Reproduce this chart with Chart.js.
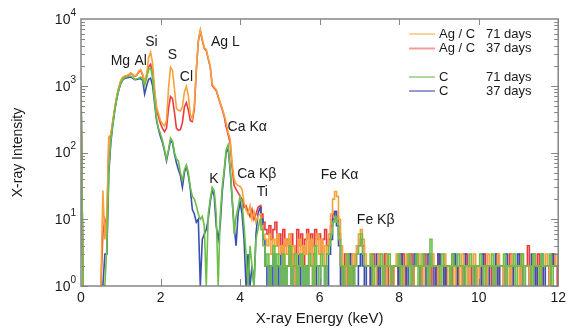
<!DOCTYPE html>
<html>
<head>
<meta charset="utf-8">
<script src="https://cdn.jsdelivr.net/npm/chart.js@4/dist/chart.umd.min.js"></script>
<style>
  html, body { margin: 0; padding: 0; background: #fff; }
  #wrap { width: 570px; height: 331px; }
</style>
</head>
<body>
<div id="wrap"><canvas id="myChart" width="570" height="331"></canvas></div>
<script>
// Spectrum channels: 0.05 keV wide, 0 to 12 keV (241 channels)
const channelWidth = 0.05;
// Above this channel the counts are low and drawn as a histogram
const noiseStart = 90;

// Counts per channel (1 = at or below the axis floor, null = no data)
const agC71 = [
  900, 1, null, null, null, null, null, null, null, null,
  1, 27, 5, 12, 170, 185, 300, 470, 700, 950,
  1200, 1350, 1400, 1420, 1480, 1560, 1480, 1400, 1450, 1650,
  1750, 1500, 1150, 1500, 2600, 3200, 2200, 900, 480, 380,
  300, 270, 250, 300, 900, 1900, 1700, 900, 460, 430,
  420, 480, 800, 980, 700, 370, 320, 500, 1800, 4800,
  6900, 5000, 3700, 3500, 2600, 1950, 1050, 950, 880, 700,
  560, 460, 370, 280, 200, 160, 70, 40, 34, 32,
  31, 28, 18, 14, 12, 16, 10, 13, 9, 11,
  12, 8, 6, 5, 4, 6, 3, 5, 4, 6,
  3, 4, 2, 5, 3, 6, 2, 4, 1, 3,
  5, 2, 4, 3, 6, 2, 5, 1, 4, 6,
  3, 5, 2, 4, 3, 6, 12, 20, 26, 22,
  10, 4, 2, 1, 3, 2, 1, 3, 2, 4,
  6, 7, 5, 3, 2, 2, 3, 2, 1, 2,
  3, 2, 2, 1, 3, 2, 2, 1, 2, 3,
  2, 2, 1, 2, 3, 2, 2, 1, 2, 2,
  3, 2, 1, 2, 2, 1, 2, 3, 2, 2,
  1, 2, 2, 3, 2, 1, 2, 2, 1, 2,
  2, 1, 3, 2, 2, 1, 2, 2, 3, 2,
  1, 2, 2, 2, 1, 3, 2, 2, 1, 2,
  3, 2, 2, 1, 2, 2, 1, 3, 2, 2,
  2, 1, 3, 2, 2, 2, 1, 2, 3, 2,
  2, 1, 2, 2, 3, 2, 1, 2, 2, 3,
  2
];

const agC37 = [
  1000, 1, null, null, null, null, null, null, null, null,
  1, 6, 10, 8, 165, 180, 290, 460, 680, 930,
  1180, 1330, 1380, 1400, 1450, 1530, 1470, 1380, 1430, 1600,
  1700, 1450, 1100, 1400, 1900, 2100, 1600, 800, 450, 340,
  270, 230, 205, 230, 450, 690, 640, 400, 230, 215,
  220, 280, 480, 560, 430, 300, 290, 450, 1700, 4600,
  6600, 4800, 3600, 3400, 2500, 1900, 1000, 920, 850, 680,
  540, 440, 350, 240, 185, 140, 60, 32, 28, 25,
  22, 20, 15, 16, 13, 11, 14, 10, 12, 15,
  16, 12, 9, 7, 6, 8, 5, 7, 9, 4,
  6, 3, 7, 4, 5, 2, 6, 4, 3, 7,
  4, 6, 2, 5, 7, 3, 6, 4, 7, 5,
  6, 3, 5, 7, 4, 5, 8, 12, 13, 11,
  6, 2, 1, 3, 1, 2, 3, 1, 2, 3,
  4, 5, 4, 2, 2, 2, 1, 3, 2, 2,
  1, 2, 2, 3, 1, 2, 2, 1, 2, 2,
  1, 2, 3, 1, 2, 2, 3, 1, 2, 2,
  2, 1, 2, 3, 2, 2, 1, 2, 2, 1,
  3, 2, 2, 1, 2, 2, 1, 3, 2, 1,
  2, 2, 1, 2, 3, 2, 2, 1, 2, 2,
  2, 1, 2, 3, 1, 2, 2, 1, 2, 3,
  1, 2, 2, 1, 2, 2, 3, 1, 2, 2,
  2, 3, 1, 2, 2, 4, 1, 2, 2, 1,
  3, 2, 1, 2, 2, 2, 1, 3, 2, 2,
  1
];

const c71 = [
  1100, 1, null, null, null, null, null, null, null, null,
  null, 1, 1, 4, 60, 150, 270, 440, 650, 880,
  1100, 1250, 1320, 1350, 1380, 1400, 1330, 1250, 1270, 1300,
  1350, 1250, 1000, 1300, 1750, 1850, 1300, 600, 320, 230,
  190, 150, 110, 80, 110, 165, 150, 100, 80, 75,
  50, 38, 55, 65, 50, 30, 22, 20, 16, 12,
  10, 11, 8, 1, 12, 20, 30, 27, 12, 1,
  11, 30, 55, 110, 130, 60, 22, 6, 11, 15,
  22, 18, 8, 3, 1, 4, 2, 1, 5, 7,
  10, 7, 4, 2, 3, 1, 2, 4, 1, 3,
  2, 1, 3, 1, 2, 4, 1, 2, 3, 1,
  2, 3, 1, 2, 1, 3, 2, 1, 4, 2,
  1, 3, 2, 1, 3, 4, 6, 9, 11, 9,
  5, 2, 1, 2, 3, 1, 2, 1, 2, 3,
  4, 6, 3, 2, 2, 2, 3, 1, 2, 2,
  2, 3, 1, 2, 2, 3, 1, 2, 2, 2,
  3, 1, 2, 2, 2, 3, 1, 2, 2, 3,
  1, 2, 3, 2, 2, 1, 5, 2, 2, 2,
  2, 1, 3, 2, 2, 2, 1, 3, 2, 2,
  3, 2, 2, 1, 2, 2, 3, 2, 1, 2,
  2, 3, 2, 1, 2, 2, 2, 3, 1, 2,
  2, 2, 2, 3, 1, 2, 2, 2, 3, 1,
  2, 2, 3, 1, 2, 2, 2, 1, 3, 2,
  2, 1, 3, 2, 2, 2, 3, 1, 2, 2,
  2
];

const c37 = [
  1000, 1, null, null, null, null, null, null, null, null,
  null, 1, 3, 3, 50, 140, 260, 430, 640, 860,
  1080, 1220, 1290, 1310, 1330, 1350, 1300, 1230, 1240, 1260,
  1280, 1200, 750, 1000, 1250, 1300, 1000, 550, 300, 220,
  170, 140, 105, 75, 105, 150, 140, 95, 70, 55,
  45, 30, 50, 62, 45, 28, 14, 12, 9, 10,
  1, 5, 6, 7, 10, 18, 28, 22, 8, 5,
  8, 25, 50, 100, 115, 55, 20, 8, 4, 12,
  18, 12, 5, 1, 3, 1, 2, 1, 6, 12,
  15, 10, 5, 2, 1, 2, 1, 3, 1, 2,
  1, 3, 1, 2, 1, 1, 3, 1, 2, 1,
  3, 1, 2, 1, 2, 1, 1, 3, 1, 2,
  2, 1, 1, 2, 1, 3, 5, 10, 13, 8,
  4, 1, 2, 1, 1, 3, 1, 2, 1, 1,
  2, 3, 2, 1, 2, 2, 1, 2, 2, 3,
  1, 2, 2, 1, 3, 2, 2, 1, 2, 2,
  1, 3, 2, 2, 1, 2, 2, 1, 3, 2,
  2, 1, 2, 2, 1, 3, 2, 2, 1, 2,
  3, 2, 2, 1, 2, 2, 1, 2, 3, 1,
  2, 2, 1, 3, 2, 1, 2, 2, 1, 2,
  2, 1, 3, 2, 2, 1, 2, 2, 1, 3,
  1, 2, 2, 1, 3, 2, 2, 1, 2, 2,
  3, 2, 1, 2, 2, 2, 1, 3, 2, 1,
  2, 2, 3, 1, 2, 2, 1, 2, 3, 2,
  2
];

// Axis ticks
const energyTicks = [0, 2, 4, 6, 8, 10, 12];
const intensityDecades = [0, 1, 2, 3, 4];

// Peak labels (energy in keV, intensity where the label sits)
const peakNames = ["Mg", "Al", "Si", "S", "Cl", "Ag L", "Ca K\u03b1", "K", "Ca K\u03b2", "Ti", "Fe K\u03b1", "Fe K\u03b2"];
const peakEnergies = [0.99, 1.50, 1.77, 2.30, 2.65, 3.63, 4.18, 3.34, 4.42, 4.56, 6.50, 7.41];
const peakIntensities = [2300, 2300, 4450, 2840, 1330, 4450, 244, 40, 48, 25.8, 46, 9.8];

// Legend
const legendSamples = ["Ag / C", "Ag / C", "C", "C"];
const legendDays = ["71 days", "37 days", "71 days", "37 days"];
const seriesColors = ["#f6a23c", "#ec3b3f", "#6abf45", "#3a4fb3"];
const legendColors = ["#fbd39a", "#f39c9c", "#acd99c", "#939bcf"];

const FONT = "'Liberation Sans', Arial, sans-serif";
Chart.defaults.font.family = FONT;

const toPoints = (vals, from, to) =>
  vals.slice(from, to).map((v, i) => ({ x: +((i + from) * channelWidth).toFixed(2), y: v }));

// each series: smooth line for the peaks, histogram steps for the low-count tail
function spectrum(label, vals, color, order) {
  return [
    { label: label, data: toPoints(vals, 0, noiseStart + 1), borderColor: color, order: order },
    { label: label, data: toPoints(vals, noiseStart, vals.length), borderColor: color, order: order, stepped: "middle" },
  ];
}

const data = {
  datasets: [
    ...spectrum("Ag / C 71 days", agC71, seriesColors[0], 1),
    ...spectrum("Ag / C 37 days", agC37, seriesColors[1], 3),
    ...spectrum("C 71 days", c71, seriesColors[2], 0),
    ...spectrum("C 37 days", c37, seriesColors[3], 2),
  ],
};

// Box, inward ticks, y labels, peak names and legend
const framePlugin = {
  id: "frame",
  afterDatasetsDraw(chart) {
    const { ctx, chartArea: a, scales: { x, y } } = chart;
    ctx.save();
    ctx.strokeStyle = "#858585";
    ctx.lineWidth = 1;
    ctx.beginPath();
    energyTicks.forEach((e) => {
      if (e === 0 || e === 12) return;
      const px = Math.round(x.getPixelForValue(e)) + 0.5;
      ctx.moveTo(px, a.top); ctx.lineTo(px, a.top + 6);
      ctx.moveTo(px, a.bottom); ctx.lineTo(px, a.bottom - 7);
    });
    for (let d = 0; d < 4; d++) {
      for (let m = 1; m <= 9; m++) {
        const py = Math.round(y.getPixelForValue(m * Math.pow(10, d))) + 0.5;
        const len = m === 1 ? 7 : 4;
        ctx.moveTo(a.left, py); ctx.lineTo(a.left + len, py);
        ctx.moveTo(a.right, py); ctx.lineTo(a.right - len, py);
      }
    }
    ctx.stroke();
    ctx.lineWidth = 1.5;
    ctx.strokeRect(a.left, a.top, a.right - a.left, a.bottom - a.top);

    // y tick labels 10^n
    ctx.fillStyle = "#1a1a1a";
    intensityDecades.forEach((d) => {
      const py = y.getPixelForValue(Math.pow(10, d));
      ctx.font = "10px " + FONT;
      const ew = ctx.measureText(String(d)).width;
      ctx.textBaseline = "middle";
      ctx.textAlign = "left";
      ctx.fillText(String(d), a.left - 5 - ew, py - 6);
      ctx.font = "14px " + FONT;
      ctx.textAlign = "right";
      ctx.fillText("10", a.left - 5 - ew, py + 1);
    });

    // peak labels
    ctx.font = "14px " + FONT;
    ctx.textAlign = "center";
    ctx.textBaseline = "middle";
    ctx.fillStyle = "#1a1a1a";
    peakNames.forEach((n, i) => {
      ctx.fillText(n, x.getPixelForValue(peakEnergies[i]), y.getPixelForValue(peakIntensities[i]));
    });

    // legend
    const rows = [34, 48.5, 77, 91];
    ctx.font = "13px " + FONT;
    ctx.textAlign = "left";
    rows.forEach((ry, i) => {
      ctx.strokeStyle = legendColors[i];
      ctx.lineWidth = 2;
      ctx.beginPath();
      ctx.moveTo(409, ry); ctx.lineTo(435, ry);
      ctx.stroke();
      ctx.fillStyle = "#1a1a1a";
      ctx.fillText(legendSamples[i], 439, ry);
      ctx.fillText(legendDays[i], 486, ry);
    });
    ctx.restore();
  },
};

const config = {
  type: "line",
  data: data,
  options: {
    responsive: false,
    animation: false,
    layout: { padding: { left: 0, right: 11, top: 19, bottom: 0 } },
    elements: {
      line: { borderWidth: 1.6, tension: 0 },
      point: { radius: 0 },
    },
    plugins: {
      legend: { display: false },
      tooltip: { enabled: false },
    },
    scales: {
      x: {
        type: "linear",
        min: 0,
        max: 12,
        grid: { display: false, drawTicks: false },
        border: { display: false },
        ticks: { stepSize: 2, color: "#1a1a1a", font: { size: 14 }, padding: 4, maxRotation: 0 },
        title: { display: true, text: "X-ray Energy (keV)", color: "#1a1a1a", font: { size: 15 }, padding: { top: 0, bottom: 3 } },
        afterFit: (s) => { s.height = 45; },
      },
      y: {
        type: "logarithmic",
        min: 1,
        max: 10000,
        grid: { display: false, drawTicks: false },
        border: { display: false },
        ticks: { display: false },
        title: { display: true, text: "X-ray Intensity", color: "#1a1a1a", font: { size: 14 }, padding: { top: 10, bottom: 0 } },
        afterFit: (s) => { s.width = 81; },
      },
    },
  },
  plugins: [framePlugin],
};

const myChart = new Chart(document.getElementById("myChart"), config);
</script>
</body>
</html>
